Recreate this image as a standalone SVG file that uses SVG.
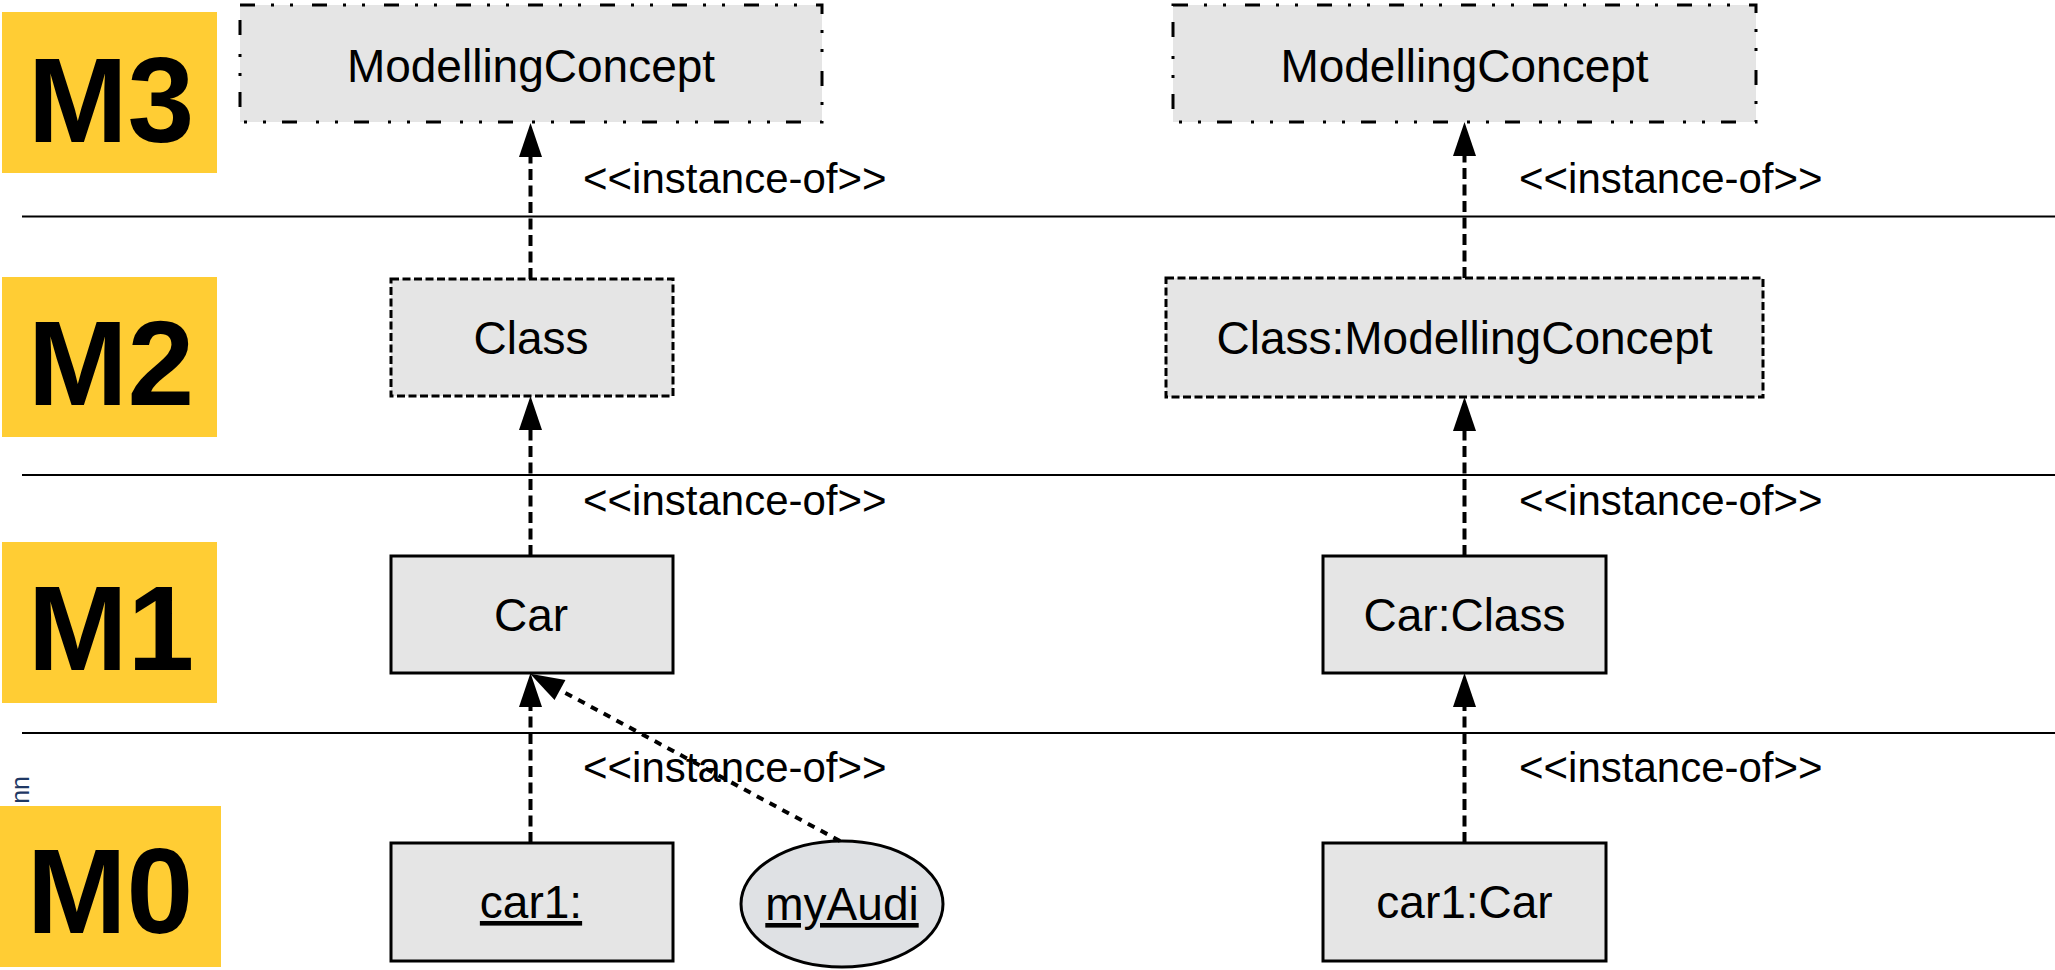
<svg xmlns="http://www.w3.org/2000/svg" width="2055" height="970" viewBox="0 0 2055 970">
<style>
text{font-family:"Liberation Sans",Arial,sans-serif;fill:#000}
.lvl{fill:#ffcd34}
.lvlt{font-size:120px;font-weight:bold;text-anchor:middle}
.sep{stroke:#000;stroke-width:2;fill:none}
.box{fill:#e5e5e5;stroke:#000;stroke-width:3}
.m3{stroke-dasharray:15 16 3 16 3 19}
.m2{stroke-dasharray:8 3.5}
.nt{font-size:46px;text-anchor:middle}
.u{text-decoration:underline}
.lbl{font-size:42px}
.conn{stroke:#000;stroke-width:4;fill:none;stroke-dasharray:11 5.5}
.dot{stroke-dasharray:7.5 7}
</style>
<defs>
<marker id="ah" markerUnits="userSpaceOnUse" markerWidth="34" markerHeight="24" refX="0" refY="0" orient="auto" overflow="visible">
<path d="M0,-11.5 L34,0 L0,11.5 Z" fill="#000"/>
</marker>
</defs>
<g id="levels">
<g id="M3"><rect class="lvl" x="2" y="12" width="215" height="161"/><text class="lvlt" x="111" y="142">M3</text></g>
<g id="M2"><rect class="lvl" x="2" y="277" width="215" height="160"/><text class="lvlt" x="111" y="405">M2</text></g>
<g id="M1"><rect class="lvl" x="2" y="542" width="215" height="161"/><text class="lvlt" x="111" y="670">M1</text></g>
<text x="29" y="776" transform="rotate(-90 29 776)" text-anchor="end" style="font-size:25px;fill:#1f3864">nn</text>
<g id="M0"><rect class="lvl" x="0" y="806" width="221" height="161"/><text class="lvlt" x="110" y="933">M0</text></g>
</g>
<g id="separators">
<line class="sep" x1="22" y1="216.5" x2="2055" y2="216.5"/>
<line class="sep" x1="22" y1="475" x2="2055" y2="475"/>
<line class="sep" x1="22" y1="733" x2="2055" y2="733"/>
</g>
<g id="mc-left"><rect class="box m3" x="240" y="5" width="582" height="117"/><text class="nt" x="531" y="82">ModellingConcept</text></g>
<g id="mc-right"><rect class="box m3" x="1173" y="5" width="583" height="117"/><text class="nt" x="1464.5" y="82">ModellingConcept</text></g>
<g id="class"><rect class="box m2" x="391" y="279" width="282" height="117"/><text class="nt" x="531" y="354">Class</text></g>
<g id="class-mc"><rect class="box m2" x="1166" y="278" width="597" height="119"/><text class="nt" x="1464.5" y="354">Class:ModellingConcept</text></g>
<g id="car"><rect class="box" x="391" y="556" width="282" height="117"/><text class="nt" x="531" y="631">Car</text></g>
<g id="car-class"><rect class="box" x="1323" y="556" width="283" height="117"/><text class="nt" x="1464.5" y="631">Car:Class</text></g>
<g id="car1"><rect class="box" x="391" y="843" width="282" height="118"/><text class="nt u" x="531" y="918">car1:</text></g>
<g id="car1-car"><rect class="box" x="1323" y="843" width="283" height="118"/><text class="nt" x="1464.5" y="918">car1:Car</text></g>
<g id="myaudi"><ellipse cx="842" cy="904" rx="101" ry="63" fill="#dfe1e4" stroke="#000" stroke-width="3"/><text class="nt u" x="842" y="920">myAudi</text></g>
<g id="labels">
<text class="lbl" x="583" y="193">&lt;&lt;instance-of&gt;&gt;</text>
<text class="lbl" x="583" y="515">&lt;&lt;instance-of&gt;&gt;</text>
<text class="lbl" x="583" y="782">&lt;&lt;instance-of&gt;&gt;</text>
<text class="lbl" x="1519" y="193">&lt;&lt;instance-of&gt;&gt;</text>
<text class="lbl" x="1519" y="515">&lt;&lt;instance-of&gt;&gt;</text>
<text class="lbl" x="1519" y="782">&lt;&lt;instance-of&gt;&gt;</text>
</g>
<g id="connectors">
<line class="conn" x1="530.5" y1="279" x2="530.5" y2="157" marker-end="url(#ah)"/>
<line class="conn" x1="530.5" y1="556" x2="530.5" y2="430" marker-end="url(#ah)"/>
<line class="conn" x1="530.5" y1="843" x2="530.5" y2="707" marker-end="url(#ah)"/>
<line class="conn dot" x1="840" y1="841" x2="560" y2="690" marker-end="url(#ah)"/>
<line class="conn" x1="1464.5" y1="278" x2="1464.5" y2="156" marker-end="url(#ah)"/>
<line class="conn" x1="1464.5" y1="556" x2="1464.5" y2="431" marker-end="url(#ah)"/>
<line class="conn" x1="1464.5" y1="843" x2="1464.5" y2="707" marker-end="url(#ah)"/>
</g>
</svg>
